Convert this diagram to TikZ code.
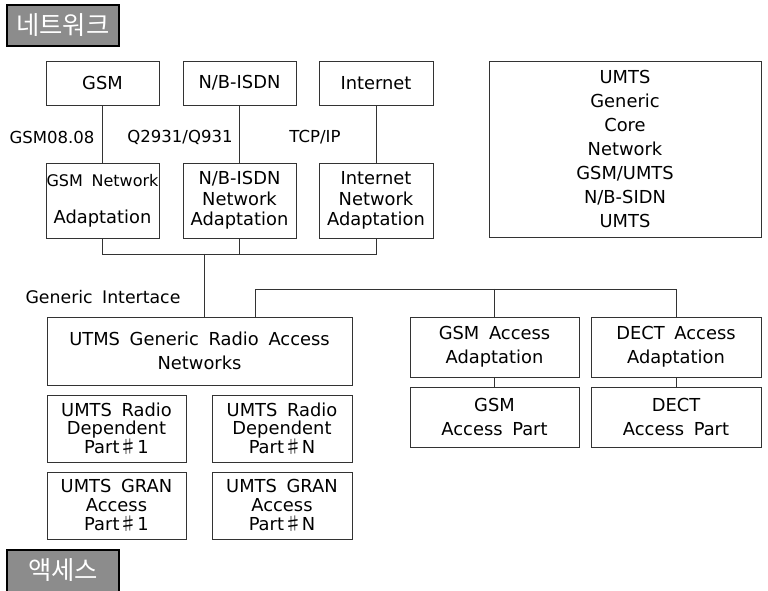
\documentclass[tikz,border=0pt]{standalone}
\usepackage{fontspec}
\setmainfont{DejaVu Sans}[WordSpace=1.7]
\newfontfamily\kr{Noto Sans CJK KR}
\usetikzlibrary{calc}
\tikzset{
  wh/.style 2 args={minimum width=#1*0.75pt, minimum height=#2*0.75pt},
  box/.style={draw=black!80, line width=0.6pt, inner sep=0pt, align=center, font=\fontsize{13.4}{15}\selectfont},
  lbl/.style={inner sep=0pt, font=\fontsize{12.4}{14}\selectfont},
  ttl/.style={draw=black, line width=0.8pt, fill=black!45, inner sep=0pt, text=white, font=\kr\fontsize{19}{20}\selectfont},
  conn/.style={draw=black!80, line width=0.6pt}
}
\begin{document}
\begin{tikzpicture}[x=0.75pt,y=-0.75pt]
\clip (0,0) rectangle (768,591);
\fill[white] (0,0) rectangle (768,591);
% titles
\node[ttl, wh={112}{41}] (t1) at (63,25.5) {네트워크};
\node[ttl, wh={112}{50}] (t2) at (63,575) {};
\node[text=white, font=\kr\fontsize{19}{20}\selectfont, inner sep=0pt] (t2t) at (63,570) {액세스};
% network row
\node[box, wh={113}{44}] (gsm) at (102.5,83) {GSM};
\node[box, wh={113}{44}] (nb) at (239.5,83) {N/B-ISDN};
\node[box, wh={114}{44}] (inet) at (376,83) {Internet};
\node[box, wh={272}{176}, font=\fontsize{13.4}{18}\selectfont] (core) at (625,149) {UMTS\\Generic\\Core\\Network\\GSM/UMTS\\N/B-SIDN\\UMTS};
% adaptation row
\node[box, wh={113}{75}] (gsmna) at (102.5,200.5) {{\fontsize{12}{14}\selectfont GSM Network}\\[13pt]Adaptation};
\node[box, wh={113}{75}, font=\fontsize{13.4}{15.5}\selectfont] (nbna) at (239.5,200.5) {N/B-ISDN\\Network\\Adaptation};
\node[box, wh={114}{75}, font=\fontsize{13.4}{15.5}\selectfont] (ina) at (376,200.5) {Internet\\Network\\Adaptation};
% labels
\node[lbl] (l1) at (52,137) {GSM08.08};
\node[lbl] (l2) at (180,137) {Q2931/Q931};
\node[lbl] (l3) at (315,137) {TCP/IP};
\node[lbl, font=\fontsize{13}{14}\selectfont] (l4) at (103,297) {Generic Intertace};
% access
\node[box, wh={305}{68}, font=\fontsize{13.4}{18}\selectfont] (gran) at (199.5,351) {UTMS Generic Radio Access\\Networks};
\node[box, wh={169}{60}, font=\fontsize{13.4}{18}\selectfont] (gsmaa) at (494.5,347) {GSM Access\\Adaptation};
\node[box, wh={170}{60}, font=\fontsize{13.4}{18}\selectfont] (dectaa) at (676,347) {DECT Access\\Adaptation};
\node[box, wh={169}{60}, font=\fontsize{13.4}{18}\selectfont] (gsmap) at (494.5,417) {GSM\\Access Part};
\node[box, wh={170}{60}, font=\fontsize{13.4}{18}\selectfont] (dectap) at (676,417) {DECT\\Access Part};
\node[box, wh={139}{67}, font=\fontsize{13.4}{14}\selectfont] (rd1) at (116.5,428.5) {UMTS Radio\\Dependent\\Part{\kr ♯}1};
\node[box, wh={140}{67}, font=\fontsize{13.4}{14}\selectfont] (rdn) at (282,428.5) {UMTS Radio\\Dependent\\Part{\kr ♯}N};
\node[box, wh={139}{67}, font=\fontsize{13.4}{14}\selectfont] (ga1) at (116.5,505.5) {UMTS GRAN\\Access\\Part{\kr ♯}1};
\node[box, wh={140}{67}, font=\fontsize{13.4}{14}\selectfont] (gan) at (282,505.5) {UMTS GRAN\\Access\\Part{\kr ♯}N};
% connectors
\coordinate (b1) at (204,254);
\coordinate (b2) at (255,289);
\draw[conn] (gsm.south) -- (gsmna.north);
\draw[conn] (nb.south) -- (nbna.north);
\draw[conn] (inet.south) -- (ina.north);
\draw[conn] (gsmna.south) -- (gsmna.south |- b1) -- (ina.south |- b1) -- (ina.south);
\draw[conn] (nbna.south) -- (nbna.south |- b1);
\draw[conn] (b1) -- (b1 |- gran.north);
\draw[conn] (b2 |- gran.north) -- (b2) -- (dectaa.north |- b2) -- (dectaa.north);
\draw[conn] (gsmaa.north |- b2) -- (gsmaa.north);
\draw[conn] (gsmaa.south) -- (gsmap.north);
\draw[conn] (dectaa.south) -- (dectap.north);
\end{tikzpicture}
\end{document}
